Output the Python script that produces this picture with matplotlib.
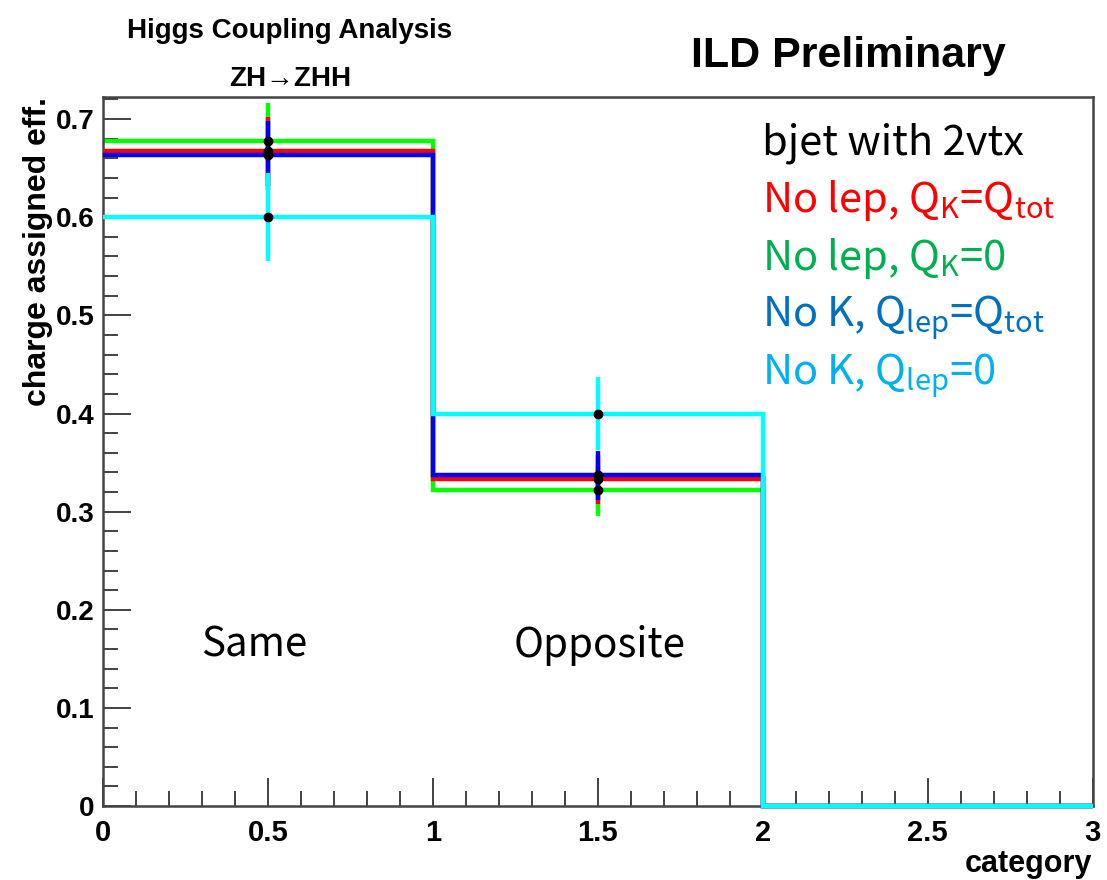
import numpy as np
import matplotlib.pyplot as plt
import matplotlib.ticker as ticker

# charge assignment efficiency per category, bjet with 2 vertices
edges = [0, 1, 2, 3]
categories = ['Same', 'Opposite', '']

red_eff = [0.667, 0.333, 0.0]      # No lep, QK = Qtot
green_eff = [0.678, 0.322, 0.0]    # No lep, QK = 0
blue_eff = [0.663, 0.337, 0.0]     # No K, Qlep = Qtot
cyan_eff = [0.600, 0.400, 0.0]     # No K, Qlep = 0

red_err = [0.035, 0.025, 0.0]
green_err = [0.038, 0.026, 0.0]
blue_err = [0.035, 0.025, 0.0]
cyan_err = [0.045, 0.037, 0.0]

plt.rcParams['mathtext.fontset'] = 'custom'
plt.rcParams['mathtext.rm'] = 'Noto Sans CJK JP'
plt.rcParams['mathtext.it'] = 'Noto Sans CJK JP'

fig = plt.figure(figsize=(11.07, 8.8), dpi=100)
ax = fig.add_axes([0.093, 0.084, 0.894, 0.806])

centers = np.array([0.5, 1.5, 2.5])
series = [
    (green_eff, green_err, '#00ff00'),
    (red_eff, red_err, '#ff0000'),
    (blue_eff, blue_err, '#0000ff'),
    (cyan_eff, cyan_err, '#00ffff'),
]
z = 2
for vals, errs, col in series:
    vals = np.array(vals)
    errs = np.array(errs)
    ax.stairs(vals, edges, baseline=None, color=col, lw=3.2, zorder=z, clip_on=False)
    m = vals > 0
    ax.errorbar(centers[m], vals[m], yerr=errs[m], fmt='none', ecolor=col,
                elinewidth=3.2, capsize=0, zorder=z)
    z += 1
for vals, errs, col in series:
    vals = np.array(vals)
    m = vals > 0
    ax.plot(centers[m], vals[m], 'o', color='black', ms=6, zorder=10)

ax.set_xlim(0, 3)
ax.set_ylim(0, 0.7227)

ax.xaxis.set_major_locator(ticker.MultipleLocator(0.5))
ax.xaxis.set_minor_locator(ticker.MultipleLocator(0.1))
ax.yaxis.set_major_locator(ticker.MultipleLocator(0.1))
ax.yaxis.set_minor_locator(ticker.MultipleLocator(0.02))
ax.xaxis.set_major_formatter(ticker.FormatStrFormatter('%g'))
ax.yaxis.set_major_formatter(ticker.FormatStrFormatter('%g'))
ax.tick_params(which='both', direction='in', top=False, right=False, color='#222222', width=1.2)
ax.tick_params(which='major', length=20)
ax.tick_params(which='minor', length=11)
ax.tick_params(axis='x', pad=9)
ax.tick_params(axis='y', pad=6)
for lab in ax.get_xticklabels():
    lab.set_fontfamily('Liberation Sans')
    lab.set_fontweight('bold')
    lab.set_fontsize(21)
for lab in ax.get_yticklabels():
    lab.set_fontfamily('Liberation Sans')
    lab.set_fontweight('bold')
    lab.set_fontsize(20)
for s in ax.spines.values():
    s.set_color('#444444')
    s.set_linewidth(1.8)

ax.set_ylabel('charge assigned eff.', fontsize=23, fontweight='bold',
              family='Liberation Sans', loc='top', labelpad=2)
ax.set_xlabel('category', fontsize=22, fontweight='bold',
              family='Liberation Sans', loc='right', labelpad=2)

# category names
name_x = [0.46, 1.506, 2.5]
for c, name in zip(name_x, categories):
    if name:
        ax.text(c, 0.152, name, fontsize=29, family='Noto Sans CJK JP',
                ha='center', va='baseline', color='black')

# legend text block
leg_x = 0.666
ax.text(leg_x, 0.918, 'bjet with 2vtx', transform=ax.transAxes, fontsize=30,
        family='Noto Sans CJK JP', color='black', va='baseline')
labels = [
    (r'No lep, $\mathregular{Q_K}$=$\mathregular{Q_{tot}}$', '#ff0000'),
    (r'No lep, $\mathregular{Q_K}$=0', '#00b050'),
    (r'No K, $\mathregular{Q_{lep}}$=$\mathregular{Q_{tot}}$', '#0070c0'),
    (r'No K, $\mathregular{Q_{lep}}$=0', '#00b0f0'),
]
for i, (txt, col) in enumerate(labels):
    ax.text(leg_x, 0.838 - i * 0.0815, txt, transform=ax.transAxes, fontsize=30,
            family='Noto Sans CJK JP', color=col, va='baseline')

fig.text(0.262, 1 - 37.5 / 880, 'Higgs Coupling Analysis', fontsize=20, fontweight='bold',
         family='Liberation Sans', ha='center', va='baseline')
fig.text(0.262, 1 - 86 / 880, 'ZH\u2192ZHH', fontsize=20, fontweight='bold',
         family=['Liberation Sans', 'DejaVu Sans'], ha='center', va='baseline')
fig.text(0.766, 1 - 67 / 880, 'ILD Preliminary', fontsize=31, fontweight='bold',
         family='Liberation Sans', ha='center', va='baseline')

fig.savefig('out.png', dpi=100)
